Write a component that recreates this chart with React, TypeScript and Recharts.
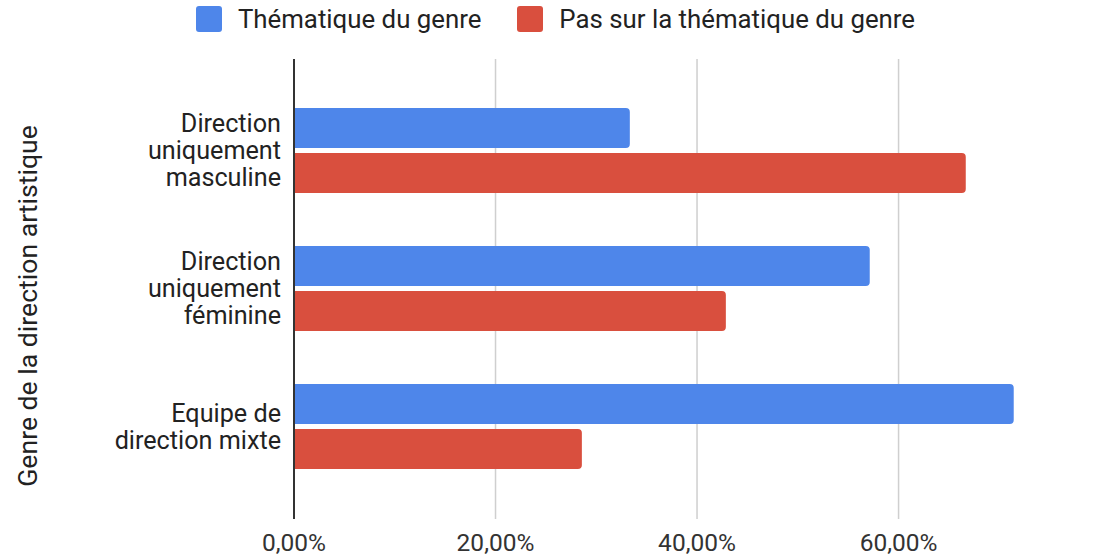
import { Bar, BarChart, CartesianGrid, XAxis, YAxis } from 'recharts';

const FONT = 'Roboto, "Liberation Sans", Arial, sans-serif';
const BLUE = '#4e86ea';
const RED = '#d94f3e';

// catégories (un retour à la ligne par ligne affichée)
const categories = [
  'Direction\nuniquement\nmasculine',
  'Direction\nuniquement\nféminine',
  'Equipe de\ndirection mixte',
];
const thematique = [0.3333, 0.5714, 0.7143];
const pasThematique = [0.6667, 0.4286, 0.2857];
const xTicks = [0, 0.2, 0.4, 0.6];

const seriesNames = ['Thématique du genre', 'Pas sur la thématique du genre'];
const seriesColours = [BLUE, RED];

const data = categories.map((c, i) => ({
  cat: c,
  thematique: thematique[i],
  pasThematique: pasThematique[i],
}));

function pct(v: number): string {
  return (v * 100).toFixed(2).replace('.', ',') + '%';
}

function CatTick(props: any) {
  const { x, y, payload } = props;
  const lines = String(payload.value).split('\n');
  const lh = 27;
  const start = y - ((lines.length - 1) * lh) / 2;
  return (
    <text x={x} y={start} textAnchor="end" fill="#222" fontSize={25.2} fontFamily={FONT} dominantBaseline="central">
      {lines.map((l, i) => (
        <tspan key={i} x={x} y={start + i * lh}>
          {l}
        </tspan>
      ))}
    </text>
  );
}

function AxisTitle(props: any) {
  const { viewBox } = props;
  const cx = viewBox.x + 27;
  const cy = viewBox.y + viewBox.height / 2 + 17;
  return (
    <text
      x={cx}
      y={cy}
      transform={`rotate(-90 ${cx} ${cy})`}
      textAnchor="middle"
      dominantBaseline="central"
      fill="#222"
      fontSize={26.6}
      fontFamily={FONT}
    >
      Genre de la direction artistique
    </text>
  );
}

function LegendRow() {
  return (
    <div
      style={{
        position: 'absolute',
        top: 4,
        left: 0,
        width: 1095,
        display: 'flex',
        justifyContent: 'center',
        paddingLeft: 16,
        boxSizing: 'border-box',
        fontFamily: FONT,
        fontSize: 25.8,
        color: '#222',
        gap: 36,
      }}
    >
      {seriesNames.map((n, i) => (
        <div key={n} style={{ display: 'flex', alignItems: 'center', gap: 16 }}>
          <span style={{ width: 26, height: 26, borderRadius: 3, background: seriesColours[i], display: 'inline-block' }} />
          <span>{n}</span>
        </div>
      ))}
    </div>
  );
}

export default function App() {
  return (
    <div style={{ position: 'relative', width: 1095, height: 557, background: '#fff' }}>
      <style>{'body{margin:0}'}</style>
      <LegendRow />
      <BarChart
        layout="vertical"
        width={1095}
        height={557}
        data={data}
        margin={{ top: 59, right: 5, bottom: 0, left: 0 }}
        barSize={40}
        barGap={5}
      >
        <CartesianGrid horizontal={false} stroke="#cfcfcf" strokeWidth={1.5} syncWithTicks />
        <XAxis
          type="number"
          domain={[0, 0.79]}
          ticks={xTicks}
          tickFormatter={pct}
          axisLine={false}
          tickLine={false}
          tickSize={0}
          tickMargin={15}
          height={38}
          tick={{ fill: '#333', fontSize: 24.5, fontFamily: FONT }}
        />
        <YAxis
          type="category"
          dataKey="cat"
          width={294}
          padding={{ top: 22, bottom: 24 }}
          axisLine={{ stroke: '#333', strokeWidth: 2 }}
          tickLine={false}
          tickSize={0}
          tickMargin={13}
          tick={<CatTick />}
          label={<AxisTitle />}
        />
        <Bar dataKey="thematique" name={seriesNames[0]} fill={BLUE} radius={[0, 4, 4, 0]} isAnimationActive={false} />
        <Bar dataKey="pasThematique" name={seriesNames[1]} fill={RED} radius={[0, 4, 4, 0]} isAnimationActive={false} />
      </BarChart>
    </div>
  );
}
